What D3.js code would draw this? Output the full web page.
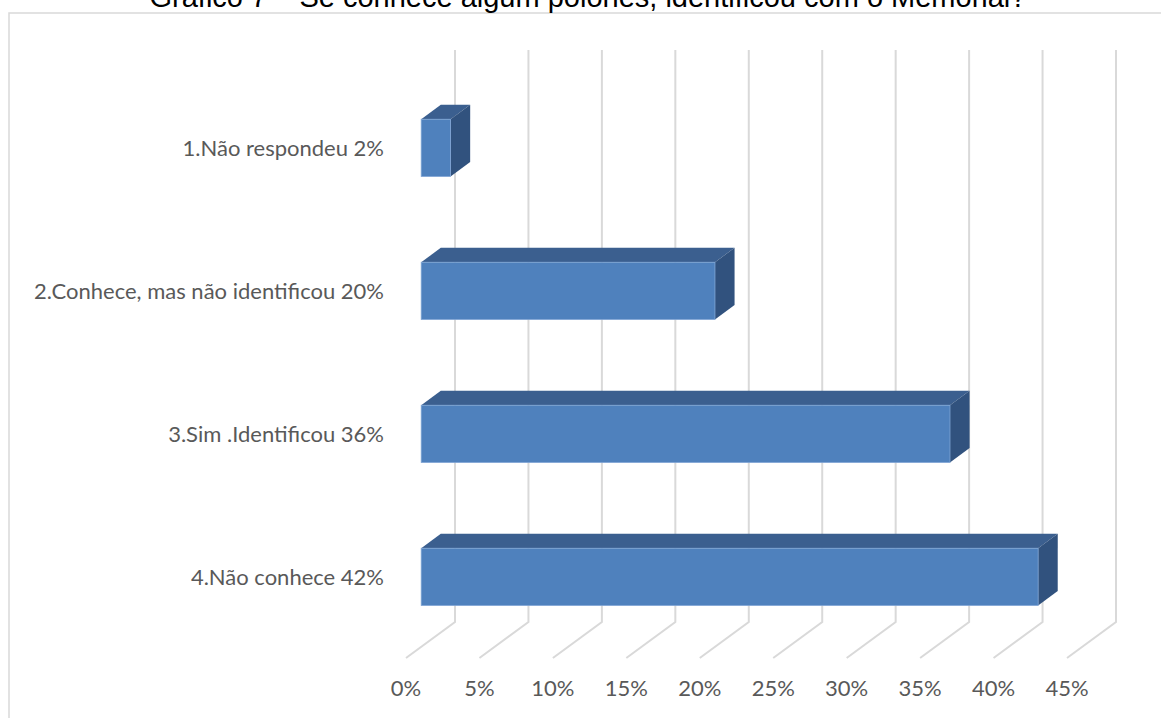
<!DOCTYPE html>
<html>
<head>
<meta charset="utf-8">
<script src="https://cdn.jsdelivr.net/npm/d3@7"></script>
<style>
  html, body { margin: 0; padding: 0; background: #fff; }
  svg { display: block; }
</style>
</head>
<body>
<svg id="chart" width="1161" height="718"></svg>
<script>
// Survey answers (bar labels include the share) and their percentages
const categories = [
  "1.Não respondeu 2%",
  "2.Conhece, mas não identificou 20%",
  "3.Sim .Identificou 36%",
  "4.Não conhece 42%"
];
const values = [2, 20, 36, 42];
const tickValues = [0, 5, 10, 15, 20, 25, 30, 35, 40, 45];
const title = "Gráfico 7 – Se conhece algum polonês, identificou com o Memorial?";

const svg = d3.select("#chart");
const W = 1161, H = 718;

// 3D layout: back wall and a depth vector pointing from the wall toward the viewer
const wallLeft = 455, wallRight = 1116, wallTop = 50, wallBottom = 622;
const depth = { dx: -49, dy: 36 };
const barFront = 0.69, barBack = 0.29;   // bar slab position along the depth

const x = d3.scaleLinear().domain([0, 45]).range([wallLeft, wallRight]);
const y = d3.scaleBand().domain(categories)
  .range([wallTop + 1.5, wallBottom + 1.5])
  .paddingInner(0.6).paddingOuter(0.3);

// chart frame
svg.append("rect")
  .attr("x", 9).attr("y", 13).attr("width", W).attr("height", H)
  .attr("fill", "#fff").attr("stroke", "#d9d9d9").attr("stroke-width", 1.5);

// title
svg.append("text")
  .attr("x", 588).attr("y", 7)
  .attr("text-anchor", "middle")
  .attr("font-family", "'Liberation Sans', Arial, sans-serif")
  .attr("font-size", 29).attr("fill", "#000")
  .text(title);

// gridlines: vertical on the back wall, then along the floor to the front
const grid = svg.append("g").attr("fill", "none").attr("stroke", "#d9d9d9").attr("stroke-width", 2);
grid.selectAll("path").data(tickValues).join("path")
  .attr("d", t => {
    const p = d3.path();
    p.moveTo(x(t), wallTop);
    p.lineTo(x(t), wallBottom);
    p.lineTo(x(t) + depth.dx, wallBottom + depth.dy);
    return p.toString();
  });

// tick labels at the front edge of the floor
svg.append("g").selectAll("text").data(tickValues).join("text")
  .attr("x", t => x(t) + depth.dx)
  .attr("y", wallBottom + depth.dy + 30)
  .attr("dy", "0.35em")
  .attr("text-anchor", "middle")
  .attr("font-family", "Lato, 'Open Sans', sans-serif")
  .attr("font-size", 22).attr("fill", "#595959")
  .text(t => t + "%");

// category labels
svg.append("g").selectAll("text").data(categories).join("text")
  .attr("x", 384)
  .attr("y", c => y(c) + barFront * depth.dy + y.bandwidth() / 2)
  .attr("dy", "0.35em")
  .attr("text-anchor", "end")
  .attr("font-family", "Lato, 'Open Sans', sans-serif")
  .attr("font-size", 22).attr("fill", "#595959")
  .text(c => c);

// 3D bars
const slab = { dx: (barBack - barFront) * depth.dx, dy: (barBack - barFront) * depth.dy };
const bars = svg.append("g").selectAll("g").data(categories.map((c, i) => ({ c, v: values[i] }))).join("g");

const geom = d => {
  const x0 = x(0) + barFront * depth.dx;
  const x1 = x(d.v) + barFront * depth.dx;
  const y0 = y(d.c) + barFront * depth.dy;
  const h = y.bandwidth();
  return { x0, x1, y0, h };
};

bars.append("path")
  .attr("fill", "#3b5f8f")
  .attr("d", d => {
    const g = geom(d);
    return `M${g.x0},${g.y0}L${g.x1},${g.y0}L${g.x1 + slab.dx},${g.y0 + slab.dy}L${g.x0 + slab.dx},${g.y0 + slab.dy}Z`;
  });

bars.append("path")
  .attr("fill", "#31527e")
  .attr("d", d => {
    const g = geom(d);
    return `M${g.x1},${g.y0}L${g.x1 + slab.dx},${g.y0 + slab.dy}L${g.x1 + slab.dx},${g.y0 + g.h + slab.dy}L${g.x1},${g.y0 + g.h}Z`;
  });

bars.append("rect")
  .attr("fill", "#4f81bd")
  .attr("stroke", "#7ea4d4").attr("stroke-width", 0.8)
  .attr("x", d => geom(d).x0)
  .attr("y", d => geom(d).y0)
  .attr("width", d => geom(d).x1 - geom(d).x0)
  .attr("height", d => geom(d).h);
</script>
</body>
</html>
